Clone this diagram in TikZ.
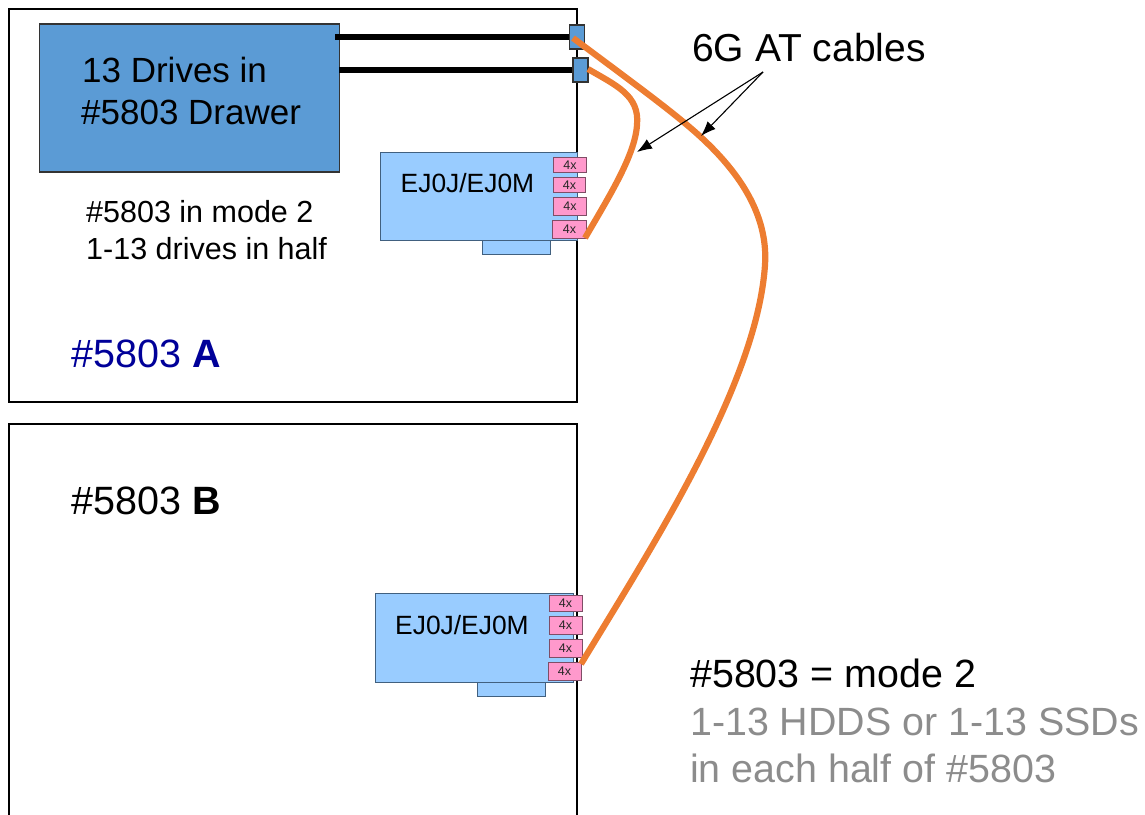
\documentclass[tikz,border=0pt]{standalone}
\usepackage{fontspec}
\setmainfont{Liberation Sans}
\usetikzlibrary{arrows.meta}
\definecolor{drawerblue}{HTML}{5B9BD5}
\definecolor{cardblue}{HTML}{99CCFF}
\definecolor{cardedge}{HTML}{41607F}
\definecolor{portpink}{HTML}{FF99CC}
\definecolor{portedge}{HTML}{7F4D66}
\definecolor{cableorange}{HTML}{ED7D31}
\definecolor{navy}{HTML}{000099}
\tikzset{
  x=1pt,y=-1pt,
  frame/.style={draw=black,line width=1.2pt,fill=white},
  blk/.style={draw=black!80,line width=1.5pt,fill=drawerblue,inner sep=0pt,anchor=north west},
  card/.style={draw=cardedge,line width=1pt,fill=cardblue,inner sep=0pt,anchor=north west},
  port/.style={draw=portedge,line width=1pt,fill=portpink,inner sep=0pt,anchor=north west,font=\fontsize{12.5}{12.5}\selectfont,text=black!85},
  cable/.style={draw=cableorange,line width=6.2pt},
  wire/.style={draw=black,line width=5.5pt},
  lbl/.style={inner sep=0pt,anchor=base west},
  pointer/.style={draw=black,line width=1.1pt,-{Latex[length=15pt,width=11pt]}}
}
\begin{document}
\begin{tikzpicture}
\useasboundingbox (0,0) rectangle (1145,814);
\path[frame] (9,9) rectangle (577,402);
\path[frame] (9,424) rectangle (577,830);
\node[blk,minimum width=300pt,minimum height=148pt] (drawer) at (38.5,23) {};
\node[blk,minimum width=15pt,minimum height=24pt] (c1) at (568.5,24) {};
\node[blk,minimum width=15pt,minimum height=24pt] (c2) at (572,57) {};
\coordinate (w1) at (335,37);
\coordinate (w2) at (339,70);
\draw[wire] (w1) -- (w1 -| c1.west);
\draw[wire] (w2) -- (w2 -| c2.west);
\node[lbl,font=\fontsize{35}{35}\selectfont] (t1) at (82,82) {13 Drives in};
\node[lbl,font=\fontsize{35}{35}\selectfont] (t2) at (81,124) {\#5803 Drawer};
\node[lbl,font=\fontsize{30.5}{30.5}\selectfont] (t3) at (86,222) {\#5803 in mode 2};
\node[lbl,font=\fontsize{30.5}{30.5}\selectfont] (t4) at (86,259) {1-13 drives in half};
\node[lbl,font=\fontsize{39.5}{39.5}\selectfont,text=navy] (t5) at (71,367) {\#5803 \textbf{A}};
\node[lbl,font=\fontsize{39.5}{39.5}\selectfont] (t6) at (71,514) {\#5803 \textbf{B}};
% card A
\node[card,minimum width=68pt,minimum height=14pt] (tabA) at (481.5,239.5) {};
\node[card,minimum width=197pt,minimum height=88pt] (cardA) at (380,151.5) {};
\node[lbl,font=\fontsize{26.4}{26.4}\selectfont] (cardAt) at (400.5,192) {EJ0J/EJ0M};
\node[port,minimum width=33pt,minimum height=15pt] (a1) at (553,157) {\raisebox{-2pt}{4x}};
\node[port,minimum width=32pt,minimum height=15pt] (a2) at (553,177) {\raisebox{-3pt}{4x}};
\node[port,minimum width=33pt,minimum height=18pt] (a3) at (553,197) {4x};
\node[port,minimum width=34pt,minimum height=18pt] (a4) at (552,220) {\raisebox{-1pt}{4x}};
% card B
\node[card,minimum width=68pt,minimum height=14pt] (tabB) at (477,681.5) {};
\node[card,minimum width=198pt,minimum height=89pt] (cardB) at (375,593) {};
\node[lbl,font=\fontsize{26.4}{26.4}\selectfont] (cardBt) at (395,634) {EJ0J/EJ0M};
\node[port,minimum width=33pt,minimum height=16pt] (b1) at (548.5,595) {\raisebox{-2pt}{4x}};
\node[port,minimum width=33pt,minimum height=18pt] (b2) at (548.5,615.5) {\raisebox{-1pt}{4x}};
\node[port,minimum width=33pt,minimum height=18pt] (b3) at (548.5,638.5) {\raisebox{-1pt}{4x}};
\node[port,minimum width=33pt,minimum height=18pt] (b4) at (547.5,661.5) {\raisebox{-1pt}{4x}};
% cables
\coordinate (cs1) at (573,38);
\coordinate (cs2) at (588,69);
\coordinate (ce1) at (581,664);
\coordinate (ce2) at (585,238);
\draw[cable] (cs1) .. controls (640,88) and (680,117) .. (705,141)
   .. controls (745,179) and (768,220) .. (765,265)
   .. controls (757,385) and (650,550) .. (ce1);
\draw[cable] (cs2) .. controls (615,85) and (640,95) .. (637,125)
   .. controls (635,155) and (610,195) .. (ce2);
% labels
\node[lbl,font=\fontsize{39}{39}\selectfont] (cap) at (692,61) {6G AT cables};
\coordinate (apex) at (763,72);
\coordinate (h1) at (637,152);
\coordinate (h2) at (701,136);
\draw[pointer] (apex) -- (h1);
\draw[pointer] (apex) -- (h2);
\node[lbl,font=\fontsize{39.4}{39.4}\selectfont] (m1) at (690,687) {\#5803 = mode 2};
\node[lbl,font=\fontsize{39.4}{39.4}\selectfont,text=black!45] (m2) at (690,735) {1-13 HDDS or 1-13 SSDs};
\node[lbl,font=\fontsize{39.4}{39.4}\selectfont,text=black!45] (m3) at (690,782) {in each half of \#5803};
\end{tikzpicture}
\end{document}
